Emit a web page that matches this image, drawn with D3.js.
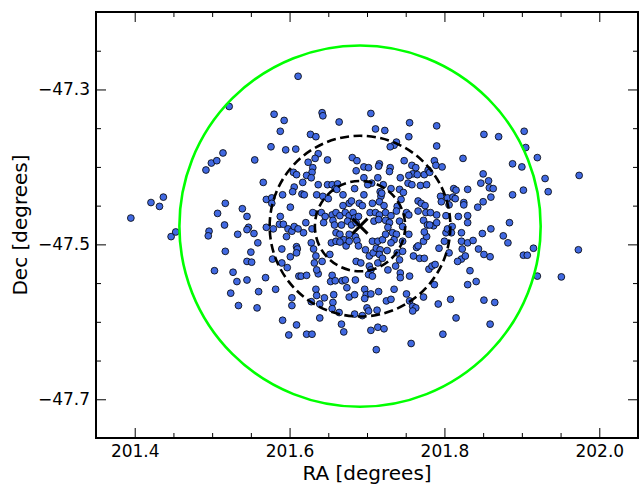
<!DOCTYPE html>
<html>
<head>
<meta charset="utf-8">
<script src="https://cdn.jsdelivr.net/npm/d3@7"></script>
<style>
  body { margin: 0; background: #fff; }
  svg { display: block; font-family: "DejaVu Sans", sans-serif; }
</style>
</head>
<body>
<div id="chart"></div>
<script>
// Member positions (degrees)
const raValues = [
  201.395, 201.421, 201.432, 201.437, 201.447, 201.453, 201.492, 201.499, 201.506, 201.514,
  201.522, 201.555, 201.580, 201.593, 201.588, 201.576, 201.595, 201.608, 201.611, 201.566,
  201.605, 201.609, 201.606, 201.604, 201.591, 201.570, 201.577, 201.577, 201.517, 201.539,
  201.507, 201.545, 201.516, 201.496, 201.495, 201.547, 201.545, 201.533, 201.554, 201.559,
  201.570, 201.579, 201.601, 201.588, 201.587, 201.592, 201.598, 201.603, 201.606, 201.611,
  201.596, 201.517, 201.550, 201.545, 201.551, 201.590, 201.609, 201.610, 201.609, 201.601,
  201.578, 201.590, 201.597, 201.612, 201.503, 201.527, 201.532, 201.545, 201.569, 201.582,
  201.560, 201.524, 201.603, 201.603, 201.534, 201.558, 201.591, 201.609, 201.599,
  201.642, 201.643, 201.705, 201.664, 201.755, 201.790, 201.711, 201.723, 201.627, 201.634,
  201.754, 201.738, 201.735, 201.730, 201.790, 201.824, 201.637, 201.633, 201.624, 201.649,
  201.681, 201.687, 201.748, 201.787, 201.789, 201.797, 201.716, 201.715, 201.696, 201.702,
  201.686, 201.730, 201.729, 201.758, 201.763, 201.630, 201.629, 201.622, 201.628, 201.759,
  201.765, 201.774, 201.779, 201.781, 201.754, 201.617, 201.637, 201.649, 201.655, 201.662,
  201.696, 201.714, 201.706, 201.701, 201.721, 201.743, 201.753, 201.758, 201.769, 201.777,
  201.659, 201.661, 201.684, 201.731, 201.742, 201.747, 201.669, 201.696, 201.717, 201.718,
  201.719, 201.635, 201.643, 201.650, 201.616, 201.619, 201.812, 201.815, 201.830, 201.795,
  201.804, 201.811, 201.814, 201.825, 201.796, 201.766, 201.770, 201.677, 201.680, 201.690,
  201.707, 201.716, 201.744,
  201.669, 201.694, 201.722, 201.739, 201.775, 201.806, 201.825, 201.630, 201.641, 201.646,
  201.655, 201.660, 201.665, 201.672, 201.677, 201.682, 201.684, 201.689, 201.704, 201.711,
  201.716, 201.724, 201.731, 201.738, 201.751, 201.754, 201.766, 201.776, 201.782, 201.790,
  201.802, 201.818, 201.830, 201.621, 201.644, 201.656, 201.658, 201.667, 201.675, 201.709,
  201.715, 201.724, 201.729, 201.727, 201.742, 201.746, 201.773, 201.778, 201.786, 201.790,
  201.830, 201.822, 201.618, 201.629, 201.660, 201.665, 201.670, 201.677, 201.685, 201.654,
  201.660, 201.665, 201.673, 201.677, 201.687, 201.689, 201.698, 201.703, 201.708, 201.712,
  201.717, 201.726, 201.707, 201.714, 201.720, 201.724, 201.733, 201.738, 201.735, 201.731,
  201.746, 201.754, 201.764, 201.766, 201.773, 201.777, 201.774, 201.781, 201.793, 201.800,
  201.802, 201.804, 201.810, 201.809, 201.822, 201.830, 201.837, 201.823, 201.806, 201.822,
  201.817, 201.827, 201.628, 201.631, 201.634, 201.632, 201.652, 201.642, 201.686, 201.692,
  201.703, 201.705, 201.702, 201.707, 201.714, 201.716, 201.720, 201.727, 201.737, 201.742,
  201.739, 201.746, 201.743, 201.743, 201.755, 201.760, 201.768, 201.780, 201.784, 201.788,
  201.774, 201.615, 201.622, 201.637, 201.635, 201.655, 201.653, 201.659, 201.668, 201.672,
  201.685, 201.634, 201.635, 201.645, 201.639, 201.628, 201.657, 201.656, 201.655, 201.674,
  201.677, 201.684, 201.697, 201.699, 201.705, 201.715, 201.697, 201.700, 201.702, 201.713,
  201.725, 201.731, 201.751, 201.755, 201.759, 201.763, 201.759, 201.773, 201.792, 201.808,
  201.833, 201.830, 201.815, 201.787, 201.735, 201.684, 201.694, 201.667, 201.670, 201.639,
  201.622, 201.629, 201.705, 201.714, 201.722, 201.757, 201.712, 201.798, 201.664, 201.680,
  201.686,
  201.851, 201.870, 201.903, 201.905, 201.920, 201.888, 201.900, 201.930, 201.934, 201.974,
  201.850, 201.857, 201.847, 201.858, 201.863, 201.860, 201.850, 201.843, 201.888, 201.902,
  201.884, 201.860, 201.849, 201.876, 201.882, 201.844, 201.851, 201.859, 201.902, 201.907,
  201.915, 201.973, 201.920, 201.951, 201.841, 201.851, 201.865, 201.859
];
const decValues = [
  -47.466, -47.446, -47.451, -47.439, -47.490, -47.484, -47.404, -47.395, -47.392, -47.382,
  -47.322, -47.391, -47.332, -47.340, -47.354, -47.374, -47.378, -47.377, -47.283, -47.420,
  -47.407, -47.410, -47.426, -47.432, -47.436, -47.442, -47.440, -47.447, -47.447, -47.454,
  -47.460, -47.464, -47.475, -47.483, -47.489, -47.478, -47.481, -47.487, -47.486, -47.498,
  -47.478, -47.480, -47.452, -47.464, -47.474, -47.474, -47.480, -47.483, -47.477, -47.480,
  -47.490, -47.509, -47.510, -47.522, -47.523, -47.506, -47.503, -47.506, -47.511, -47.516,
  -47.519, -47.524, -47.530, -47.541, -47.534, -47.536, -47.548, -47.546, -47.543, -47.558,
  -47.561, -47.563, -47.569, -47.579, -47.579, -47.582, -47.598, -47.604, -47.617,
  -47.330, -47.334, -47.331, -47.342, -47.343, -47.347, -47.351, -47.353, -47.358, -47.361,
  -47.361, -47.368, -47.372, -47.374, -47.373, -47.389, -47.383, -47.389, -47.394, -47.391,
  -47.388, -47.392, -47.392, -47.392, -47.398, -47.400, -47.396, -47.399, -47.400, -47.401,
  -47.405, -47.401, -47.406, -47.398, -47.401, -47.401, -47.407, -47.411, -47.414, -47.409,
  -47.410, -47.410, -47.404, -47.407, -47.411, -47.420, -47.423, -47.423, -47.423, -47.422,
  -47.414, -47.414, -47.421, -47.423, -47.423, -47.414, -47.421, -47.423, -47.424, -47.423,
  -47.428, -47.429, -47.428, -47.428, -47.429, -47.433, -47.436, -47.436, -47.432, -47.438,
  -47.434, -47.436, -47.438, -47.441, -47.435, -47.436, -47.428, -47.430, -47.429, -47.438,
  -47.440, -47.439, -47.441, -47.446, -47.445, -47.444, -47.447, -47.447, -47.444, -47.447,
  -47.447, -47.445, -47.442,
  -47.450, -47.450, -47.450, -47.451, -47.450, -47.449, -47.449, -47.459, -47.459, -47.464,
  -47.462, -47.459, -47.463, -47.459, -47.463, -47.459, -47.466, -47.464, -47.459, -47.459,
  -47.462, -47.459, -47.463, -47.457, -47.459, -47.462, -47.457, -47.459, -47.459, -47.462,
  -47.463, -47.464, -47.463, -47.472, -47.472, -47.469, -47.475, -47.475, -47.470, -47.470,
  -47.468, -47.469, -47.472, -47.478, -47.470, -47.477, -47.469, -47.475, -47.476, -47.472,
  -47.472, -47.485, -47.485, -47.480, -47.485, -47.487, -47.494, -47.487, -47.490, -47.498,
  -47.496, -47.497, -47.502, -47.496, -47.495, -47.502, -47.507, -47.515, -47.511, -47.505,
  -47.507, -47.508, -47.496, -47.496, -47.494, -47.487, -47.485, -47.487, -47.494, -47.498,
  -47.496, -47.487, -47.504, -47.502, -47.496, -47.490, -47.484, -47.475, -47.505, -47.496,
  -47.485, -47.480, -47.477, -47.485, -47.496, -47.498, -47.495, -47.506, -47.511, -47.519,
  -47.522, -47.515, -47.498, -47.506, -47.515, -47.524, -47.513, -47.522, -47.522, -47.524,
  -47.528, -47.533, -47.539, -47.541, -47.524, -47.513, -47.518, -47.533, -47.528, -47.520,
  -47.511, -47.509, -47.537, -47.543, -47.541, -47.515, -47.518, -47.532, -47.528, -47.526,
  -47.518, -47.541, -47.540, -47.538, -47.533, -47.540, -47.548, -47.547, -47.547, -47.546,
  -47.546, -47.558, -47.566, -47.569, -47.577, -47.574, -47.565, -47.575, -47.583, -47.556,
  -47.568, -47.565, -47.558, -47.565, -47.564, -47.561, -47.570, -47.582, -47.586, -47.585,
  -47.573, -47.571, -47.564, -47.573, -47.580, -47.582, -47.586, -47.568, -47.577, -47.571,
  -47.534, -47.552, -47.595, -47.552, -47.558, -47.590, -47.592, -47.603, -47.613, -47.595,
  -47.616, -47.616, -47.611, -47.607, -47.609, -47.628, -47.636, -47.616, -47.588, -47.475,
  -47.472,
  -47.358, -47.361, -47.354, -47.375, -47.388, -47.396, -47.400, -47.415, -47.432, -47.411,
  -47.409, -47.418, -47.421, -47.427, -47.428, -47.439, -47.445, -47.452, -47.436, -47.430,
  -47.472, -47.480, -47.486, -47.489, -47.498, -47.506, -47.513, -47.516, -47.514, -47.514,
  -47.505, -47.507, -47.541, -47.542, -47.548, -47.572, -47.575, -47.603
];

// Cluster centre and aperture radii (degrees)
const centerRA = 201.691;
const centerDec = -47.4765;
const apertureRadii = [0.2333, 0.1167, 0.0583];
const apertureStyles = ["solid", "dashed", "dashed"];

// Axis ticks
const xMajorTicks = [201.4, 201.6, 201.8, 202.0];
const xMinorTicks = [201.35, 201.45, 201.5, 201.55, 201.65, 201.7, 201.75, 201.85, 201.9, 201.95, 202.05];
const yMajorTicks = [-47.7, -47.5, -47.3];
const yMinorTicks = [-47.75, -47.65, -47.6, -47.55, -47.45, -47.4, -47.35, -47.25, -47.2];

const width = 639, height = 484;
const margin = { top: 12, right: 1, bottom: 46, left: 96 };
const innerW = width - margin.left - margin.right;
const innerH = height - margin.top - margin.bottom;

const svg = d3.select("#chart").append("svg")
    .attr("width", width)
    .attr("height", height);

const g = svg.append("g")
    .attr("transform", `translate(${margin.left},${margin.top})`);

const x = d3.scaleLinear().domain([201.35, 202.05]).range([0, innerW]);
const y = d3.scaleLinear().domain([-47.75, -47.2]).range([innerH, 0]);

const points = raValues.map((ra, i) => ({ ra: ra, dec: decValues[i] }));

// Clip to plot area
svg.append("clipPath").attr("id", "plotClip")
    .append("rect").attr("width", innerW).attr("height", innerH);

const plot = g.append("g").attr("clip-path", "url(#plotClip)");

// Scatter
plot.selectAll(".member")
    .data(points)
    .enter()
    .append("circle")
    .attr("class", "member")
    .attr("cx", d => x(d.ra))
    .attr("cy", d => y(d.dec))
    .attr("r", 3.4)
    .attr("fill", "#4169e1")
    .attr("stroke", "#000")
    .attr("stroke-width", 0.8);

// Apertures
plot.selectAll(".aperture")
    .data(apertureRadii)
    .enter()
    .append("circle")
    .attr("class", "aperture")
    .attr("cx", x(centerRA))
    .attr("cy", y(centerDec))
    .attr("r", d => x(201.35 + d) - x(201.35))
    .attr("fill", "none")
    .attr("stroke", (d, i) => apertureStyles[i] === "solid" ? "#00ff00" : "#000")
    .attr("stroke-width", 2.6)
    .attr("stroke-dasharray", (d, i) => apertureStyles[i] === "solid" ? null : "9,4.5");

// Centre marker
const cx = x(centerRA), cy = y(centerDec), s = 7.5;
plot.append("path")
    .attr("d", `M${cx - s},${cy - s}L${cx + s},${cy + s}M${cx - s},${cy + s}L${cx + s},${cy - s}`)
    .attr("stroke", "#000")
    .attr("stroke-width", 3)
    .attr("fill", "none");

// Axes: ticks point inward on all four sides
const fmt = d3.format(".1f");
function styleAxis(sel) {
    sel.select(".domain").remove();
    sel.selectAll(".tick line").attr("stroke", "#000").attr("stroke-width", 1);
    sel.selectAll(".tick text")
        .attr("fill", "#000")
        .style("font-family", "DejaVu Sans")
        .style("font-size", "17px");
}

g.append("g").attr("transform", `translate(0,${innerH})`)
    .call(d3.axisBottom(x).tickValues(xMajorTicks).tickFormat(fmt).tickSize(-10).tickPadding(7))
    .call(styleAxis);
g.append("g").attr("transform", `translate(0,${innerH})`)
    .call(d3.axisBottom(x).tickValues(xMinorTicks).tickFormat("").tickSize(-5))
    .call(styleAxis);
g.append("g")
    .call(d3.axisTop(x).tickValues(xMajorTicks).tickFormat("").tickSize(-10))
    .call(styleAxis);
g.append("g")
    .call(d3.axisTop(x).tickValues(xMinorTicks).tickFormat("").tickSize(-5))
    .call(styleAxis);

g.append("g")
    .call(d3.axisLeft(y).tickValues(yMajorTicks).tickFormat(fmt).tickSize(-10).tickPadding(6))
    .call(styleAxis);
g.append("g")
    .call(d3.axisLeft(y).tickValues(yMinorTicks).tickFormat("").tickSize(-5))
    .call(styleAxis);
g.append("g").attr("transform", `translate(${innerW},0)`)
    .call(d3.axisRight(y).tickValues(yMajorTicks).tickFormat("").tickSize(-10))
    .call(styleAxis);
g.append("g").attr("transform", `translate(${innerW},0)`)
    .call(d3.axisRight(y).tickValues(yMinorTicks).tickFormat("").tickSize(-5))
    .call(styleAxis);

// Frame
g.append("rect")
    .attr("width", innerW)
    .attr("height", innerH)
    .attr("fill", "none")
    .attr("stroke", "#000")
    .attr("stroke-width", 2);

// Axis labels
svg.append("text")
    .attr("x", margin.left + innerW / 2)
    .attr("y", 480)
    .attr("text-anchor", "middle")
    .style("font-size", "20px")
    .attr("fill", "#000")
    .text("RA [degrees]");

svg.append("text")
    .attr("transform", `translate(27,${margin.top + innerH / 2}) rotate(-90)`)
    .attr("text-anchor", "middle")
    .style("font-size", "20px")
    .attr("fill", "#000")
    .text("Dec [degrees]");
</script>
</body>
</html>
